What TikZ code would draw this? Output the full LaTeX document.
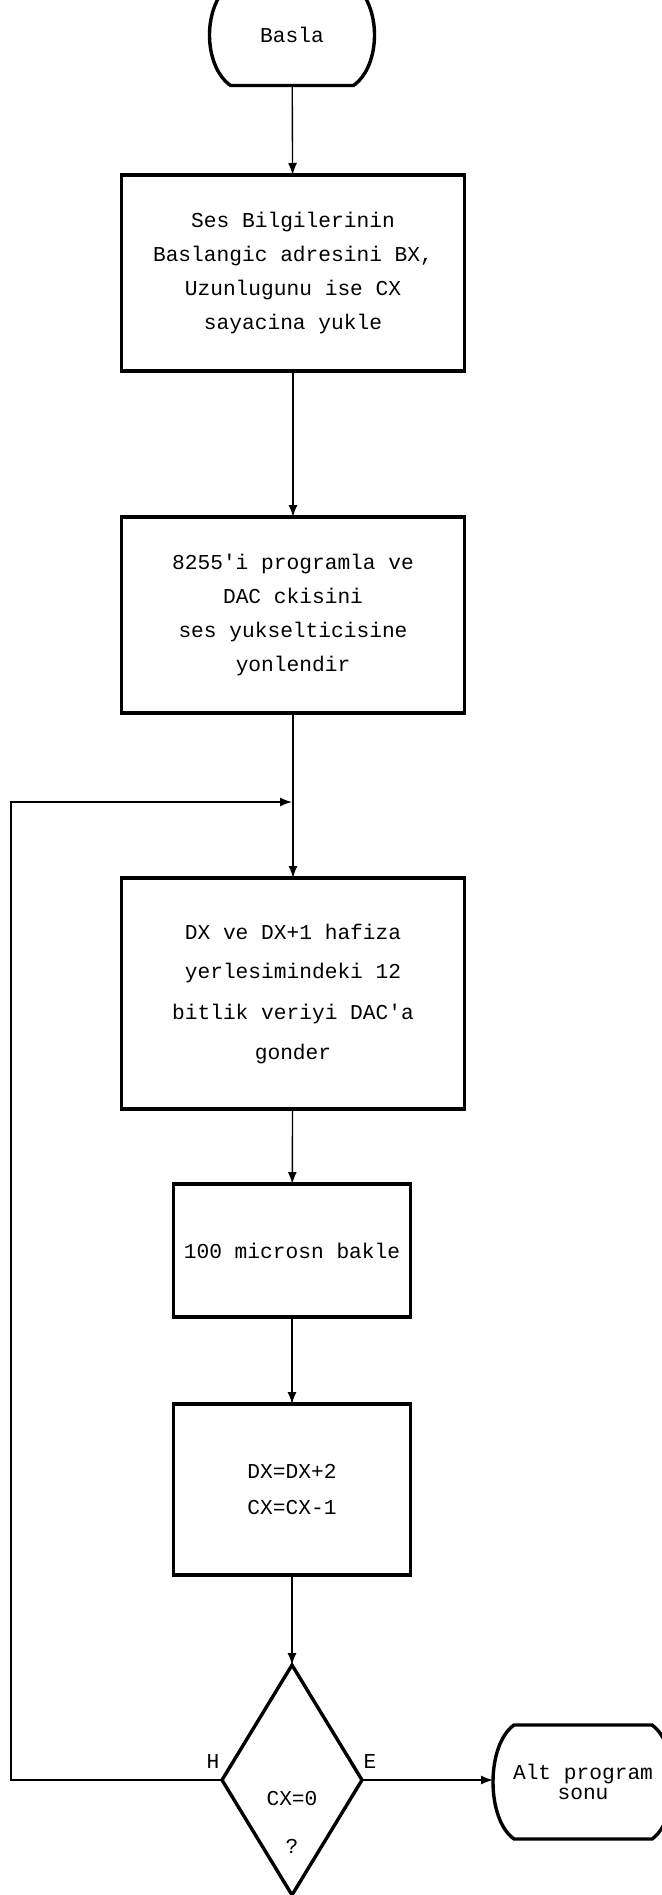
\documentclass[tikz,border=0pt]{standalone}
\usepackage{fontspec}
\setmonofont{Liberation Mono}
\usetikzlibrary{shapes.geometric, arrows.meta}

% outline of a start / end terminal, drawn round a named node
\newcommand{\termoutline}[1]{%
  \draw[termline] ([xshift=10.5pt]#1.north west) -- ([xshift=-10.5pt]#1.north east)
    .. controls +(28,20) and +(28,-20) .. ([xshift=-10.5pt]#1.south east)
    -- ([xshift=10.5pt]#1.south west)
    .. controls +(-28,-20) and +(-28,20) .. ([xshift=10.5pt]#1.north west) -- cycle;}

\begin{document}
\begin{tikzpicture}[x=0.5pt, y=-0.5pt,
    every node/.style={font=\ttfamily\fontsize{10.6pt}{17pt}\selectfont, inner sep=0pt, outer sep=0pt},
    box/.style={draw, line width=1.7pt, align=center, minimum width=171.5pt},
    smallbox/.style={box, minimum width=118.5pt},
    term/.style={align=center, minimum width=82.5pt, minimum height=50.5pt,
                 font=\ttfamily\fontsize{10.6pt}{10pt}\selectfont},
    termline/.style={line width=1.7pt},
    decision/.style={draw, diamond, line width=1.7pt, minimum width=70pt, minimum height=115pt},
    flow/.style={line width=0.7pt, -{Latex[length=6pt, width=4.5pt]}}]
    \useasboundingbox (0,0) rectangle (662,1895);
    \clip (0,0) rectangle (662,1895);

    \node[term] at (292,35) (start) {Basla};
    \termoutline{start}

    \node[box, minimum height=98pt] at (293,273) (init)
        {Ses Bilgilerinin\\Baslangic adresini BX,\\Uzunlugunu ise CX\\sayacina yukle};
    \node[box, minimum height=98pt] at (293,615) (prog)
        {8255'i programla ve\\DAC ckisini\\ses yukselticisine\\yonlendir};
    \node[box, minimum height=115.5pt, font=\ttfamily\fontsize{10.6pt}{20pt}\selectfont] at (293,993.5) (send)
        {DX ve DX+1 hafiza\\yerlesimindeki 12\\bitlik veriyi DAC'a\\gonder};
    \node[smallbox, minimum height=66.5pt] at (292,1250.5) (wait) {100 microsn bakle};
    \node[smallbox, minimum height=85.5pt, font=\ttfamily\fontsize{10.6pt}{18pt}\selectfont] at (292,1489.5) (count)
        {DX=DX+2\\CX=CX-1};

    \node[decision] at (292,1780) (test) {};
    \node[align=center, font=\ttfamily\fontsize{10.6pt}{24pt}\selectfont] at (292,1822) (testtxt) {CX=0\\?};
    \node at (213,1761) (no)  {H};
    \node at (370,1761) (yes) {E};

    \node[term, minimum width=90pt, minimum height=57pt] at (583,1782) (stop) {Alt program\\sonu};
    \termoutline{stop}

    \coordinate (join) at (292,802);
    \coordinate (back) at (11,1780);

    \draw[flow] (start) -- (init);
    \draw[flow] (init) -- (prog);
    \draw[flow] (prog) -- (send);
    \draw[flow] (send) -- (wait);
    \draw[flow] (wait) -- (count);
    \draw[flow] (count) -- (test);
    \draw[flow] (test.east) -- (stop.west |- test.east);
    \draw[flow] (test.west) -- (back) |- (join);
\end{tikzpicture}
\end{document}
